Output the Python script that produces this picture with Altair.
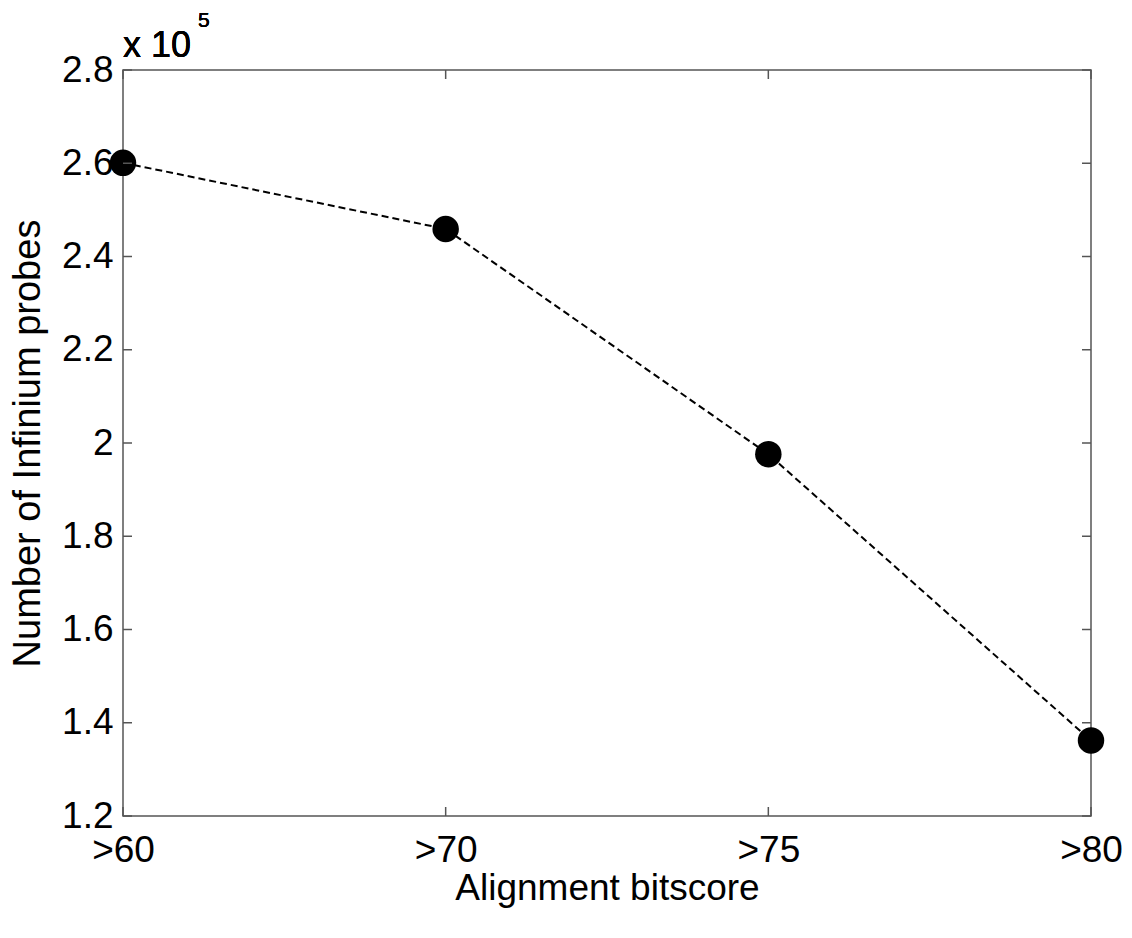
import altair as alt
import pandas as pd

categories = [">60", ">70", ">75", ">80"]
probes = [260100, 245900, 197600, 136200]
y_ticks = [120000, 140000, 160000, 180000, 200000, 220000, 240000, 260000, 280000]
x_title = "Alignment bitscore"
y_title = "Number of Infinium probes"
scale_label = "x 10"
scale_exp = "5"

df = pd.DataFrame({"bitscore": categories, "probes": probes})
yt_df = pd.DataFrame({"probes": y_ticks})
xt_df = pd.DataFrame({"bitscore": categories})

W, H = 968, 746
GRAY = "#555555"
FONT = "Liberation Sans"

xscale = alt.Scale(type="point", padding=0, domain=categories)
yscale = alt.Scale(domain=[y_ticks[0], y_ticks[-1]], zero=False, nice=False)

x_axis = alt.Axis(labelAngle=0, labelPadding=16, titlePadding=2, titleFontSize=37)
y_axis = alt.Axis(values=y_ticks,
                  labelExpr="format(datum.value / 100000, '~g')",
                  labelPadding=10, titlePadding=14, titleFontSize=38)
x_enc = alt.X("bitscore:O", scale=xscale, title=x_title, axis=x_axis)
y_enc = alt.Y("probes:Q", scale=yscale, title=y_title, axis=y_axis)

base = alt.Chart(df)
line = base.mark_line(color="black", strokeWidth=2, strokeDash=[7, 4]).encode(x=x_enc, y=y_enc)
pts = base.mark_circle(size=700, color="black", opacity=1).encode(x=x_enc, y=y_enc)

yl = alt.Chart(yt_df).mark_rule(color=GRAY, strokeWidth=1.5).encode(
    y=y_enc, x=alt.value(0), x2=alt.value(9))
yr = alt.Chart(yt_df).mark_rule(color=GRAY, strokeWidth=1.5).encode(
    y=y_enc, x=alt.value(W - 9), x2=alt.value(W))
xb = alt.Chart(xt_df).mark_rule(color=GRAY, strokeWidth=1.5).encode(
    x=x_enc, y=alt.value(H - 9), y2=alt.value(H))
xtop = alt.Chart(xt_df).mark_rule(color=GRAY, strokeWidth=1.5).encode(
    x=x_enc, y=alt.value(0), y2=alt.value(9))

t1 = alt.Chart(df).mark_text(align="left", baseline="alphabetic", fontSize=36,
                             font=FONT, color="black").encode(
    x=alt.value(0), y=alt.value(-13), text=alt.value(scale_label))
t2 = alt.Chart(df).mark_text(align="left", baseline="alphabetic", fontSize=21,
                             font=FONT, color="black").encode(
    x=alt.value(75), y=alt.value(-43), text=alt.value(scale_exp))

chart = alt.layer(line, pts, yl, yr, xb, xtop, t1, t2).properties(
    width=W, height=H,
    background="white",
    autosize=alt.AutoSizeParams(type="none"),
    padding={"left": 123, "top": 70, "right": 41, "bottom": 122},
).configure_view(stroke=GRAY, strokeWidth=1.5).configure_axis(
    domain=False, ticks=False, grid=False,
    labelFont=FONT, titleFont=FONT, labelFontSize=37, titleFontSize=37,
    labelColor="black", titleColor="black", titleFontWeight="normal",
)

chart.save("out.html", embed_options={"renderer": "svg", "actions": False})
